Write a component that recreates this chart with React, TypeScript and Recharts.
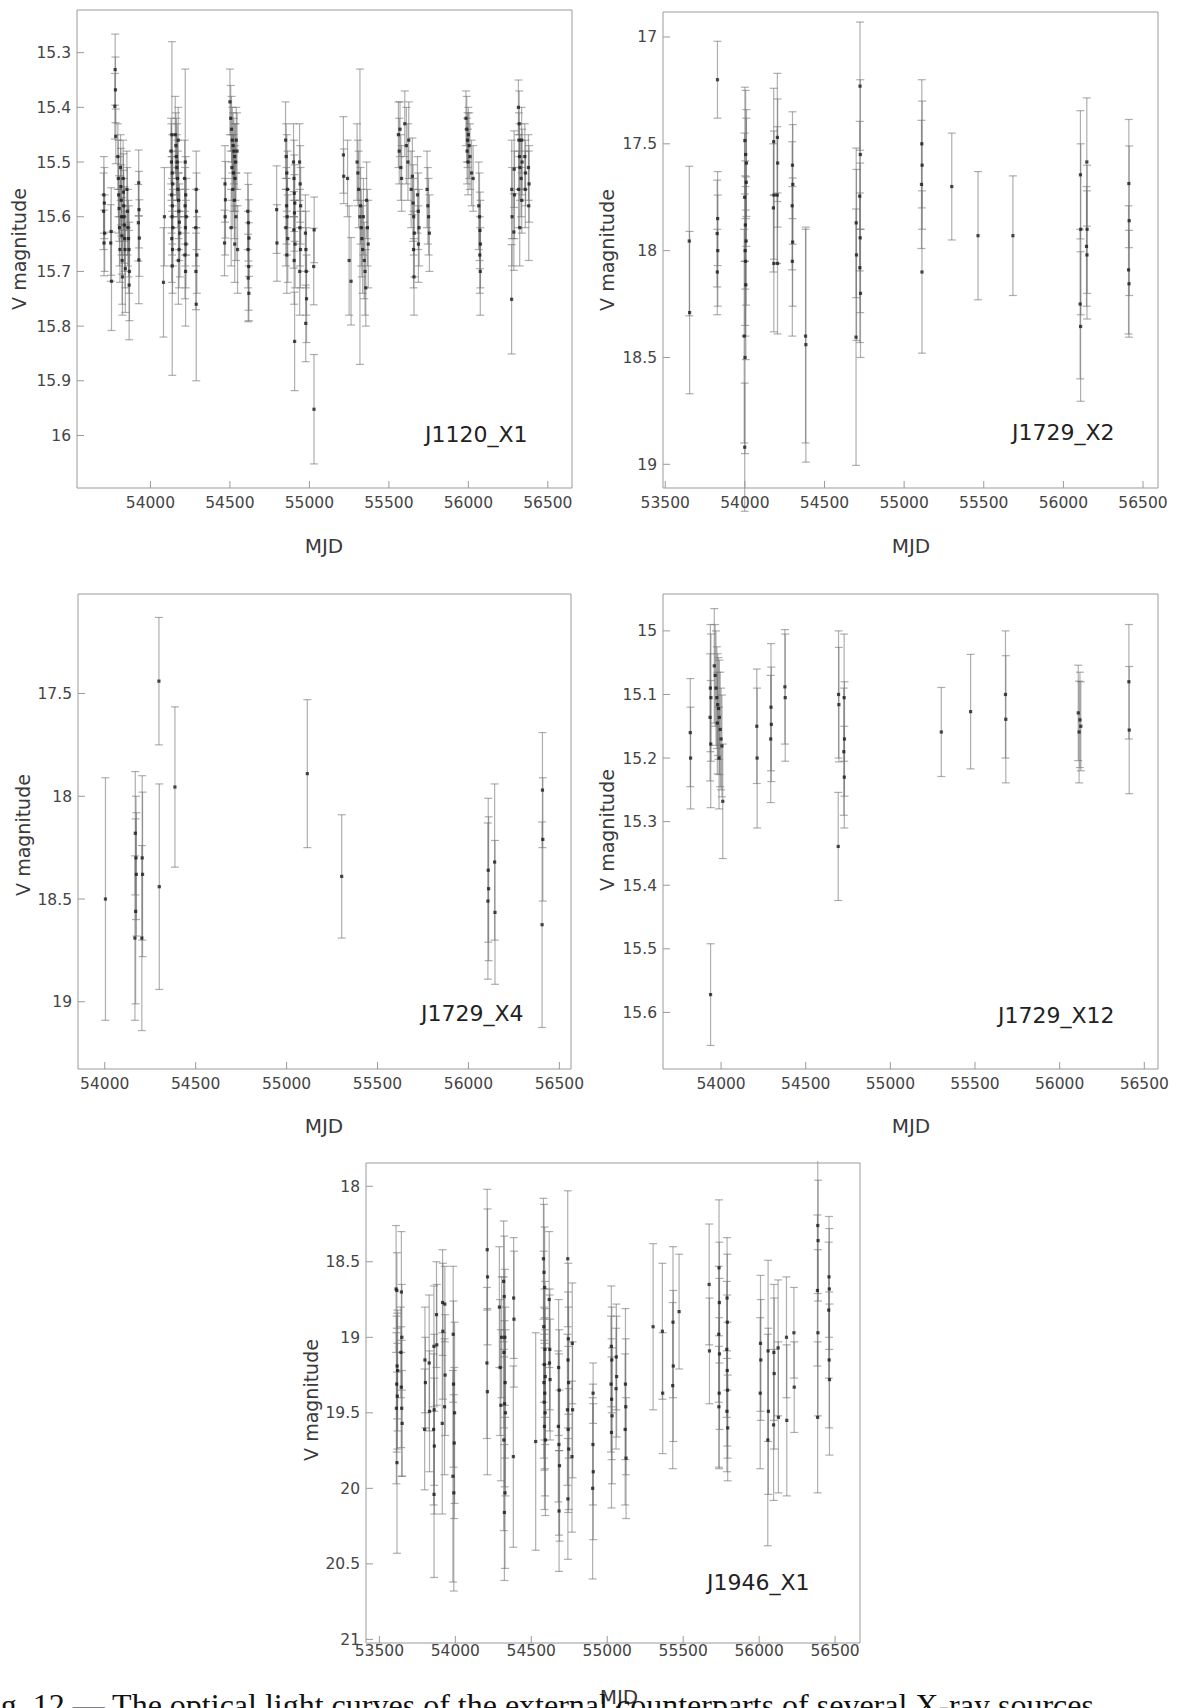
import { ScatterChart, Scatter, XAxis, YAxis, ErrorBar } from "recharts"

type Pt = [number, number, number] // MJD, V mag, 1-sigma error

// J1120_X1
const j1120X1: Pt[] = [
  [53707, 15.56, 0.07], [53710, 15.575, 0.065], [53705, 15.59, 0.07], [53712, 15.63, 0.07], [53708, 15.648, 0.06],
  [53753, 15.627, 0.08], [53750, 15.648, 0.07], [53755, 15.718, 0.09],
  [53778, 15.331, 0.065], [53780, 15.368, 0.06], [53776, 15.398, 0.06], [53782, 15.453, 0.05],
  [53795, 15.49, 0.06], [53798, 15.53, 0.07], [53800, 15.56, 0.07], [53803, 15.585, 0.06], [53805, 15.62, 0.07], [53808, 15.66, 0.06],
  [53812, 15.51, 0.06], [53814, 15.545, 0.07], [53816, 15.57, 0.065], [53818, 15.6, 0.07], [53820, 15.635, 0.07], [53822, 15.68, 0.08], [53824, 15.71, 0.07],
  [53828, 15.53, 0.07], [53830, 15.555, 0.07], [53832, 15.58, 0.065], [53834, 15.6, 0.07], [53836, 15.615, 0.07], [53838, 15.64, 0.06], [53840, 15.66, 0.07], [53842, 15.695, 0.08],
  [53852, 15.55, 0.07], [53855, 15.59, 0.08], [53858, 15.62, 0.07], [53862, 15.64, 0.07], [53865, 15.66, 0.08], [53868, 15.7, 0.09], [53866, 15.725, 0.1],
  [53926, 15.538, 0.06], [53928, 15.587, 0.07], [53924, 15.611, 0.07], [53930, 15.639, 0.07], [53927, 15.679, 0.08],
  [54082, 15.72, 0.1], [54088, 15.6, 0.09],
  [54135, 15.45, 0.17], [54130, 15.48, 0.06], [54132, 15.5, 0.07], [54137, 15.52, 0.07], [54140, 15.54, 0.06], [54133, 15.56, 0.07],
  [54138, 15.58, 0.07], [54136, 15.6, 0.07], [54141, 15.62, 0.07], [54134, 15.64, 0.08], [54139, 15.66, 0.08], [54137, 15.69, 0.2],
  [54156, 15.45, 0.07], [54160, 15.47, 0.06], [54163, 15.49, 0.07], [54166, 15.51, 0.06], [54170, 15.53, 0.07], [54173, 15.55, 0.07],
  [54176, 15.57, 0.07], [54179, 15.59, 0.07], [54182, 15.61, 0.07], [54185, 15.63, 0.08], [54180, 15.66, 0.07], [54176, 15.68, 0.08],
  [54168, 15.5, 0.07], [54175, 15.46, 0.06],
  [54219, 15.5, 0.17], [54215, 15.53, 0.07], [54222, 15.56, 0.07], [54218, 15.58, 0.07], [54225, 15.6, 0.07], [54220, 15.62, 0.07],
  [54223, 15.65, 0.08], [54217, 15.67, 0.08], [54221, 15.7, 0.1],
  [54288, 15.55, 0.07], [54290, 15.59, 0.07], [54285, 15.62, 0.07], [54292, 15.67, 0.07], [54288, 15.76, 0.14], [54286, 15.7, 0.07],
  [54469, 15.54, 0.07], [54472, 15.569, 0.07], [54466, 15.648, 0.06], [54470, 15.6, 0.07],
  [54500, 15.39, 0.06], [54505, 15.42, 0.06], [54510, 15.44, 0.06], [54515, 15.46, 0.06], [54520, 15.47, 0.06], [54525, 15.48, 0.06],
  [54530, 15.49, 0.06], [54535, 15.5, 0.07], [54512, 15.51, 0.06], [54522, 15.52, 0.07], [54532, 15.53, 0.06], [54540, 15.46, 0.06],
  [54545, 15.48, 0.07], [54518, 15.55, 0.07], [54528, 15.57, 0.07], [54538, 15.6, 0.08], [54508, 15.62, 0.07], [54530, 15.65, 0.07], [54548, 15.66, 0.08],
  [54612, 15.59, 0.07], [54616, 15.611, 0.07], [54620, 15.639, 0.07], [54614, 15.66, 0.07], [54618, 15.691, 0.08], [54615, 15.712, 0.08], [54619, 15.74, 0.05],
  [54794, 15.587, 0.08], [54796, 15.648, 0.07],
  [54850, 15.46, 0.07], [54854, 15.49, 0.06], [54858, 15.52, 0.07], [54862, 15.55, 0.07], [54856, 15.58, 0.07], [54860, 15.6, 0.07],
  [54852, 15.62, 0.07], [54864, 15.64, 0.08], [54858, 15.67, 0.07],
  [54900, 15.5, 0.07], [54903, 15.53, 0.07], [54905, 15.557, 0.07], [54908, 15.575, 0.07], [54906, 15.593, 0.07], [54902, 15.624, 0.07],
  [54910, 15.65, 0.08], [54904, 15.68, 0.08], [54907, 15.828, 0.09],
  [54938, 15.5, 0.07], [54942, 15.54, 0.07], [54945, 15.58, 0.07], [54940, 15.62, 0.07], [54944, 15.66, 0.07], [54939, 15.7, 0.08],
  [54975, 15.63, 0.07], [54978, 15.66, 0.07], [54980, 15.7, 0.08], [54977, 15.795, 0.07], [54982, 15.75, 0.08],
  [55029, 15.952, 0.1], [55030, 15.624, 0.06], [55027, 15.691, 0.07],
  [55214, 15.487, 0.07], [55216, 15.526, 0.05], [55240, 15.53, 0.07], [55250, 15.68, 0.1], [55262, 15.718, 0.08],
  [55300, 15.5, 0.07], [55305, 15.52, 0.06], [55310, 15.55, 0.07], [55318, 15.6, 0.27], [55322, 15.58, 0.07], [55326, 15.62, 0.07],
  [55330, 15.64, 0.07], [55335, 15.66, 0.08], [55340, 15.6, 0.07], [55345, 15.68, 0.07], [55350, 15.7, 0.08], [55355, 15.73, 0.07],
  [55360, 15.57, 0.07], [55365, 15.62, 0.07], [55370, 15.65, 0.08],
  [55560, 15.45, 0.06], [55565, 15.48, 0.06], [55570, 15.44, 0.05], [55575, 15.51, 0.06], [55580, 15.53, 0.06], [55600, 15.43, 0.06],
  [55610, 15.47, 0.07], [55620, 15.5, 0.07], [55625, 15.46, 0.07], [55640, 15.55, 0.07], [55648, 15.526, 0.07], [55652, 15.575, 0.07],
  [55656, 15.6, 0.07], [55660, 15.63, 0.08], [55655, 15.66, 0.07], [55658, 15.71, 0.07], [55680, 15.56, 0.07], [55685, 15.59, 0.07],
  [55690, 15.62, 0.07], [55686, 15.65, 0.07], [55740, 15.55, 0.07], [55745, 15.58, 0.07], [55750, 15.6, 0.07], [55755, 15.63, 0.07],
  [55985, 15.42, 0.05], [55990, 15.44, 0.06], [55995, 15.46, 0.05], [55992, 15.48, 0.06], [55998, 15.5, 0.06], [56000, 15.45, 0.05],
  [56005, 15.47, 0.06], [56010, 15.49, 0.06], [56020, 15.52, 0.06], [56030, 15.53, 0.06],
  [56065, 15.58, 0.08], [56070, 15.6, 0.08], [56073, 15.625, 0.07], [56076, 15.65, 0.08], [56072, 15.67, 0.07], [56075, 15.7, 0.08],
  [56273, 15.55, 0.09], [56275, 15.6, 0.09], [56272, 15.751, 0.1], [56288, 15.513, 0.07], [56290, 15.56, 0.08], [56286, 15.628, 0.07],
  [56315, 15.4, 0.05], [56320, 15.43, 0.06], [56318, 15.46, 0.05], [56322, 15.49, 0.06], [56325, 15.51, 0.06], [56316, 15.55, 0.07],
  [56323, 15.62, 0.07], [56335, 15.46, 0.06], [56338, 15.5, 0.06], [56332, 15.53, 0.07], [56336, 15.57, 0.06], [56355, 15.49, 0.06],
  [56360, 15.52, 0.06], [56358, 15.55, 0.07], [56378, 15.51, 0.06], [56382, 15.54, 0.07], [56380, 15.58, 0.1],
]

// J1729_X2
const j1729X2: Pt[] = [
  [53651, 17.955, 0.35], [53653, 18.29, 0.38],
  [53828, 17.2, 0.18], [53826, 17.92, 0.25], [53830, 18.0, 0.26], [53829, 17.85, 0.22], [53827, 18.1, 0.2],
  [54000, 17.485, 0.25], [54005, 17.55, 0.3], [54010, 17.59, 0.25], [53998, 17.75, 0.3], [54003, 17.88, 0.3], [54008, 17.955, 0.3],
  [54002, 18.0, 0.35], [54006, 18.16, 0.35], [53996, 18.4, 0.5], [54001, 18.5, 0.45], [53999, 18.92, 0.3], [54004, 18.05, 0.35], [54009, 17.68, 0.3],
  [54181, 17.49, 0.25], [54183, 17.74, 0.3], [54179, 17.8, 0.3], [54182, 18.06, 0.32],
  [54204, 17.47, 0.3], [54206, 17.59, 0.3], [54203, 17.74, 0.32], [54205, 18.06, 0.33],
  [54299, 17.6, 0.25], [54301, 17.69, 0.28], [54297, 17.79, 0.3], [54300, 17.96, 0.3], [54298, 18.05, 0.35],
  [54381, 18.4, 0.5], [54383, 18.44, 0.55],
  [54699, 17.87, 0.35], [54701, 18.02, 0.4], [54698, 18.405, 0.6],
  [54723, 17.23, 0.3], [54725, 17.55, 0.35], [54721, 17.745, 0.35], [54724, 17.94, 0.35], [54722, 18.08, 0.35], [54726, 18.2, 0.3],
  [55111, 17.5, 0.3], [55113, 17.6, 0.3], [55109, 17.69, 0.3], [55112, 18.1, 0.38],
  [55299, 17.7, 0.25], [55464, 17.93, 0.3], [55683, 17.93, 0.28],
  [56107, 17.645, 0.3], [56109, 17.9, 0.4], [56105, 18.25, 0.35], [56108, 18.355, 0.35],
  [56147, 17.585, 0.3], [56149, 17.9, 0.3], [56145, 17.98, 0.28], [56148, 18.02, 0.3],
  [56411, 17.686, 0.3], [56413, 17.86, 0.35], [56409, 18.09, 0.3], [56412, 18.155, 0.25],
]

// J1729_X4
const j1729X4: Pt[] = [
  [54004, 18.5, 0.59],
  [54168, 18.18, 0.3], [54172, 18.3, 0.3], [54170, 18.56, 0.45], [54166, 18.69, 0.4], [54174, 18.38, 0.3],
  [54206, 18.3, 0.4], [54208, 18.38, 0.4], [54204, 18.69, 0.45],
  [54298, 17.44, 0.31], [54300, 18.44, 0.5],
  [54386, 17.955, 0.39],
  [55114, 17.89, 0.36],
  [55303, 18.39, 0.3],
  [56109, 18.36, 0.35], [56107, 18.51, 0.38], [56111, 18.45, 0.35],
  [56144, 18.32, 0.38], [56146, 18.565, 0.35],
  [56407, 17.97, 0.28], [56409, 18.21, 0.3], [56405, 18.625, 0.5],
]

// J1729_X12
const j1729X12: Pt[] = [
  [53818, 15.16, 0.085], [53820, 15.2, 0.08],
  [53938, 15.572, 0.08], [53937, 15.09, 0.1], [53940, 15.105, 0.1], [53935, 15.136, 0.1], [53939, 15.178, 0.1],
  [53960, 15.055, 0.09], [53965, 15.07, 0.08], [53970, 15.09, 0.09], [53975, 15.105, 0.08], [53980, 15.116, 0.08], [53985, 15.122, 0.08],
  [53990, 15.136, 0.09], [53995, 15.155, 0.09], [54000, 15.17, 0.08], [54005, 15.181, 0.08], [54010, 15.268, 0.09], [53988, 15.2, 0.08], [53978, 15.145, 0.08],
  [54211, 15.15, 0.09], [54213, 15.2, 0.11],
  [54295, 15.12, 0.1], [54297, 15.147, 0.09], [54293, 15.17, 0.1],
  [54377, 15.088, 0.09], [54379, 15.105, 0.1],
  [54694, 15.1, 0.1], [54696, 15.116, 0.09], [54692, 15.339, 0.085],
  [54727, 15.105, 0.1], [54729, 15.17, 0.09], [54725, 15.19, 0.1], [54728, 15.23, 0.08],
  [55301, 15.159, 0.07], [55474, 15.127, 0.09], [55680, 15.1, 0.1], [55682, 15.139, 0.1],
  [56110, 15.129, 0.075], [56115, 15.159, 0.08], [56120, 15.14, 0.075], [56125, 15.15, 0.07],
  [56409, 15.08, 0.09], [56411, 15.156, 0.1],
]

// J1946_X1
const j1946X1: Pt[] = [
  [53610, 18.68, 0.42], [53615, 18.69, 0.25], [53617, 19.19, 0.35], [53620, 19.22, 0.4], [53614, 19.31, 0.45], [53618, 19.39, 0.35],
  [53612, 19.47, 0.5], [53616, 19.83, 0.6], [53645, 18.7, 0.4], [53648, 19.0, 0.35], [53644, 19.33, 0.4], [53647, 19.47, 0.45],
  [53650, 19.57, 0.35], [53642, 19.1, 0.3],
  [53800, 19.15, 0.35], [53803, 19.3, 0.3], [53798, 19.61, 0.4], [53828, 19.17, 0.45], [53830, 19.49, 0.4],
  [53859, 19.06, 0.4], [53861, 19.48, 0.5], [53857, 19.61, 0.5], [53862, 19.72, 0.45], [53860, 20.04, 0.55],
  [53876, 18.85, 0.35], [53878, 19.05, 0.4], [53916, 18.77, 0.35], [53918, 18.96, 0.45], [53914, 19.57, 0.6],
  [53931, 18.78, 0.25], [53933, 19.25, 0.4], [53929, 19.46, 0.45], [53986, 18.98, 0.45], [53988, 19.31, 0.55],
  [53984, 19.92, 0.7], [53990, 20.03, 0.65], [53995, 19.5, 0.6], [53993, 19.7, 0.5],
  [54210, 18.42, 0.4], [54212, 18.6, 0.45], [54208, 19.17, 0.5], [54211, 19.36, 0.55],
  [54290, 18.8, 0.4], [54295, 19.2, 0.45], [54300, 19.45, 0.5], [54305, 19.0, 0.4], [54318, 18.63, 0.4], [54322, 18.73, 0.4],
  [54326, 19.0, 0.45], [54320, 19.1, 0.5], [54328, 19.3, 0.5], [54324, 19.44, 0.55], [54330, 19.5, 0.55], [54319, 19.68, 0.6],
  [54327, 20.03, 0.5], [54323, 20.16, 0.45], [54384, 18.74, 0.4], [54386, 18.88, 0.45], [54382, 19.79, 0.6],
  [54529, 19.69, 0.72],
  [54580, 18.48, 0.4], [54584, 18.57, 0.45], [54588, 18.67, 0.4], [54582, 18.93, 0.5], [54590, 19.08, 0.45], [54586, 19.18, 0.5],
  [54592, 19.26, 0.45], [54583, 19.3, 0.5], [54589, 19.37, 0.5], [54585, 19.43, 0.45], [54591, 19.5, 0.55], [54587, 19.59, 0.55],
  [54593, 19.68, 0.5], [54618, 18.75, 0.45], [54622, 19.08, 0.4], [54620, 19.17, 0.45], [54624, 19.28, 0.4],
  [54680, 19.2, 0.45], [54684, 19.35, 0.4], [54678, 19.59, 0.5], [54682, 19.71, 0.6], [54686, 19.85, 0.5], [54683, 20.15, 0.4],
  [54740, 18.48, 0.45], [54744, 19.01, 0.5], [54742, 19.15, 0.45], [54746, 19.3, 0.5], [54738, 19.48, 0.5], [54743, 19.61, 0.55],
  [54747, 19.74, 0.4], [54741, 20.07, 0.4], [54770, 19.04, 0.4], [54772, 19.48, 0.45], [54768, 19.79, 0.5],
  [54906, 19.71, 0.4], [54908, 19.89, 0.45], [54904, 20.0, 0.6], [54907, 19.37, 0.2],
  [55027, 19.06, 0.4], [55030, 19.15, 0.35], [55025, 19.31, 0.45], [55029, 19.41, 0.4], [55032, 19.52, 0.45], [55028, 19.63, 0.5],
  [55060, 19.13, 0.35], [55062, 19.26, 0.4], [55058, 19.34, 0.4], [55120, 19.31, 0.5], [55122, 19.46, 0.45], [55118, 19.61, 0.5], [55124, 19.8, 0.4],
  [55302, 18.93, 0.55], [55363, 18.96, 0.45], [55365, 19.37, 0.4], [55433, 18.9, 0.5], [55435, 19.19, 0.5], [55431, 19.32, 0.55], [55473, 18.83, 0.38],
  [55671, 18.65, 0.4], [55673, 19.09, 0.35],
  [55736, 18.54, 0.45], [55738, 18.77, 0.4], [55734, 18.98, 0.45], [55739, 19.11, 0.5], [55737, 19.37, 0.5], [55735, 19.46, 0.4],
  [55789, 18.74, 0.4], [55791, 18.9, 0.45], [55787, 19.08, 0.45], [55790, 19.22, 0.5], [55792, 19.35, 0.45], [55788, 19.49, 0.4], [55793, 19.6, 0.35],
  [56009, 19.04, 0.45], [56011, 19.15, 0.4], [56007, 19.37, 0.5], [56059, 19.09, 0.6], [56061, 19.49, 0.55], [56057, 19.68, 0.7],
  [56097, 19.1, 0.45], [56099, 19.24, 0.5], [56095, 19.58, 0.5], [56125, 19.07, 0.45], [56127, 19.53, 0.5], [56180, 19.0, 0.4], [56182, 19.55, 0.5],
  [56229, 18.97, 0.3], [56231, 19.33, 0.3],
  [56386, 18.26, 0.45], [56388, 18.36, 0.4], [56384, 18.69, 0.5], [56387, 18.97, 0.55], [56385, 19.53, 0.5],
  [56460, 18.6, 0.4], [56462, 18.68, 0.4], [56458, 18.82, 0.45], [56461, 19.15, 0.45], [56463, 19.28, 0.5],
]

const mjdTicksA = [54000, 54500, 55000, 55500, 56000, 56500]
const mjdTicksB = [53500, 54000, 54500, 55000, 55500, 56000, 56500]
const magTicks1 = [15.3, 15.4, 15.5, 15.6, 15.7, 15.8, 15.9, 16]
const magTicks2 = [17, 17.5, 18, 18.5, 19]
const magTicks3 = [17.5, 18, 18.5, 19]
const magTicks4 = [15, 15.1, 15.2, 15.3, 15.4, 15.5, 15.6]
const magTicks5 = [18, 18.5, 19, 19.5, 20, 20.5, 21]

const FONT = '"DejaVu Sans", sans-serif'
const FRAME = "#9a9a9a"
const TEXT = "#3a3a3a"

const Dot = (p: any) => (
  <rect x={p.cx - 1.6} y={p.cy - 1.6} width={3.2} height={3.2} fill="#111" fillOpacity={0.75} />
)

type PanelProps = {
  frame: [number, number, number, number] // left, top, right, bottom of the plot box on the page
  xDomain: [number, number]
  yDomain: [number, number]
  xTicks: number[]
  yTicks: number[]
  points: Pt[]
  name: string
  namePos: [number, number]
  yLabelPos: [number, number]
  xLabelPos: [number, number]
  xTickMargin?: number
}

function LightCurve({ frame, xDomain, yDomain, xTicks, yTicks, points, name, namePos, yLabelPos, xLabelPos, xTickMargin = 16 }: PanelProps) {
  const [l, t, r, b] = frame
  const padL = 70
  const padR = 30 // room for the last x tick label
  const padB = 40
  const w = r - l
  const h = b - t
  const data = points.map(([x, y, err]) => ({ x, y, err }))
  const tickStyle = { fontSize: 15.5, fill: "#444", fontFamily: FONT }
  return (
    <>
      <div style={{ position: "absolute", left: l - padL, top: t - 2 }}>
        <ScatterChart width={padL + w + padR} height={2 + h + padB} margin={{ top: 1, right: padR - 1, bottom: 0, left: 0 }}>
          <XAxis xAxisId="b" type="number" dataKey="x" domain={xDomain} ticks={xTicks} interval={0} allowDataOverflow
            height={padB} tickSize={-7} tickMargin={xTickMargin} stroke={FRAME} tick={tickStyle} />
          <XAxis xAxisId="t" orientation="top" type="number" domain={xDomain} ticks={xTicks} interval={0} allowDataOverflow
            height={1} tickSize={-7} tick={false} stroke={FRAME} />
          <YAxis yAxisId="l" type="number" dataKey="y" domain={yDomain} reversed ticks={yTicks} interval={0} allowDataOverflow
            width={padL} tickSize={-7} tickMargin={13} stroke={FRAME} tick={tickStyle} />
          <YAxis yAxisId="r" orientation="right" type="number" domain={yDomain} reversed ticks={yTicks} interval={0} allowDataOverflow
            width={1} tickSize={-7} tick={false} stroke={FRAME} />
          <Scatter xAxisId="b" yAxisId="l" data={data} shape={Dot} isAnimationActive={false}>
            <ErrorBar dataKey="err" direction="y" width={4} stroke="rgba(110,110,110,0.55)" strokeWidth={1.2} isAnimationActive={false} />
          </Scatter>
        </ScatterChart>
      </div>
      <div style={{ position: "absolute", left: yLabelPos[0], top: yLabelPos[1], transform: "translate(-50%, -50%) rotate(-90deg)",
        fontSize: 19, color: TEXT, whiteSpace: "nowrap" }}>V magnitude</div>
      <div style={{ position: "absolute", left: xLabelPos[0], top: xLabelPos[1], transform: "translate(-50%, -50%)",
        fontSize: 20, color: TEXT, whiteSpace: "nowrap" }}>MJD</div>
      <div style={{ position: "absolute", left: namePos[0], top: namePos[1], transform: "translateY(-50%)",
        fontSize: 22, color: "#222", whiteSpace: "nowrap" }}>{name}</div>
    </>
  )
}

export default function App() {
  return (
    <div style={{ position: "absolute", left: 0, top: 0, width: 1178, height: 1708, overflow: "hidden", background: "#fff", fontFamily: FONT }}>
      <LightCurve frame={[77, 10, 572, 488]} xDomain={[53538, 56652]} yDomain={[15.222, 16.096]} xTicks={mjdTicksA} yTicks={magTicks1}
        points={j1120X1} name="J1120_X1" namePos={[425, 434]} yLabelPos={[19, 249]} xLabelPos={[324, 546]} />
      <LightCurve frame={[663, 12, 1158, 488]} xDomain={[53486, 56594]} yDomain={[16.883, 19.111]} xTicks={mjdTicksB} yTicks={magTicks2}
        points={j1729X2} name="J1729_X2" namePos={[1012, 432]} yLabelPos={[607, 250]} xLabelPos={[911, 546]} />
      <LightCurve frame={[78, 594, 571, 1069]} xDomain={[53853, 56564]} yDomain={[17.016, 19.327]} xTicks={mjdTicksA} yTicks={magTicks3}
        points={j1729X4} name="J1729_X4" namePos={[421, 1013]} yLabelPos={[23, 835]} xLabelPos={[324, 1126]} />
      <LightCurve frame={[663, 594, 1158, 1069]} xDomain={[53657, 56581]} yDomain={[14.942, 15.689]} xTicks={mjdTicksA} yTicks={magTicks4}
        points={j1729X12} name="J1729_X12" namePos={[998, 1015]} yLabelPos={[607, 830]} xLabelPos={[911, 1126]} />
      <LightCurve frame={[366, 1163, 860, 1643]} xDomain={[53412, 56664]} yDomain={[17.846, 21.024]} xTicks={mjdTicksB} yTicks={magTicks5}
        points={j1946X1} name="J1946_X1" namePos={[707, 1582]} yLabelPos={[311, 1400]} xLabelPos={[619, 1697]} xTickMargin={9} />
      <div style={{ position: "absolute", left: -26, top: 1689, fontFamily: '"Liberation Serif", serif', fontSize: 32, lineHeight: "32px",
        color: "#111", whiteSpace: "nowrap" }}>
        Fig. 12.— The optical light curves of the external counterparts of several X-ray sources
      </div>
    </div>
  )
}
